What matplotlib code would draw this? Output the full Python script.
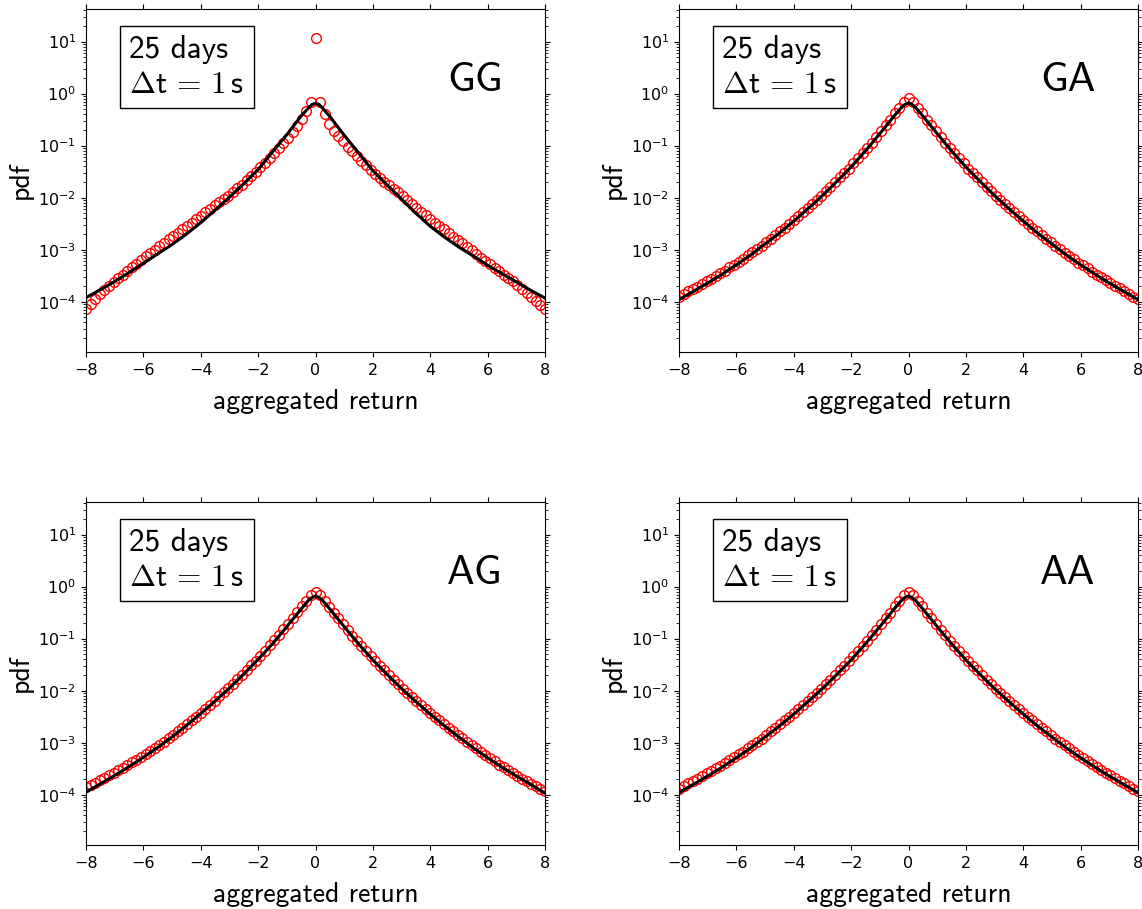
import numpy as np
import matplotlib
matplotlib.use("Agg")
import matplotlib.pyplot as plt

plt.rcParams['font.family'] = ['DejaVu Sans']

# ---------------- data (log10 of pdf) ----------------
panel_names = ["GG", "GA", "AG", "AA"]
bin_centers = np.linspace(-8, 8, 101)          # histogram bin centres
line_x = [-8, -7.5, -7, -6.5, -6, -5.5, -5, -4.5, -4, -3.5, -3, -2.5, -2, -1.5, -1,
          -0.75, -0.5, -0.25, -0.125, 0, 0.125, 0.25, 0.5, 0.75,
          1, 1.5, 2, 2.5, 3, 3.5, 4, 4.5, 5, 5.5, 6, 6.5, 7, 7.5, 8]

gg_circles_log10 = [
    -4.14, -4.04, -3.95, -3.86, -3.78, -3.70, -3.62, -3.55, -3.48, -3.41,
    -3.34, -3.27, -3.20, -3.13, -3.06, -3.00, -2.93, -2.87, -2.80, -2.74,
    -2.67, -2.61, -2.54, -2.48, -2.41, -2.35, -2.28, -2.22, -2.15, -2.09,
    -2.02, -1.96, -1.89, -1.82, -1.75, -1.67, -1.59, -1.51, -1.42, -1.33,
    -1.24, -1.14, -1.04, -0.95, -0.85, -0.74, -0.62, -0.49, -0.34, -0.17,
    1.06,
    -0.17, -0.40, -0.58, -0.71, -0.82, -0.92, -1.02, -1.11, -1.20, -1.29,
    -1.38, -1.47, -1.55, -1.62, -1.69, -1.76, -1.83, -1.90, -1.97, -2.04,
    -2.12, -2.19, -2.27, -2.34, -2.41, -2.48, -2.55, -2.61, -2.68, -2.75,
    -2.81, -2.88, -2.95, -3.01, -3.08, -3.15, -3.22, -3.28, -3.35, -3.41,
    -3.48, -3.54, -3.61, -3.68, -3.76, -3.84, -3.91, -3.98, -4.06, -4.14]

ga_circles_log10 = [
    -3.90, -3.85, -3.80, -3.75, -3.71, -3.66, -3.61, -3.56, -3.51, -3.45,
    -3.40, -3.34, -3.29, -3.23, -3.17, -3.11, -3.05, -2.99, -2.92, -2.85,
    -2.79, -2.72, -2.65, -2.58, -2.50, -2.43, -2.35, -2.28, -2.20, -2.12,
    -2.04, -1.96, -1.88, -1.79, -1.70, -1.61, -1.52, -1.44, -1.34, -1.24,
    -1.14, -1.04, -0.94, -0.83, -0.72, -0.61, -0.50, -0.38, -0.27, -0.17,
    -0.09,
    -0.17, -0.27, -0.38, -0.50, -0.61, -0.72, -0.83, -0.94, -1.04, -1.14,
    -1.24, -1.34, -1.44, -1.52, -1.61, -1.70, -1.79, -1.88, -1.96, -2.04,
    -2.12, -2.20, -2.28, -2.35, -2.43, -2.50, -2.58, -2.65, -2.72, -2.79,
    -2.85, -2.92, -2.99, -3.06, -3.12, -3.18, -3.25, -3.30, -3.36, -3.42,
    -3.48, -3.53, -3.59, -3.64, -3.69, -3.74, -3.80, -3.85, -3.90, -3.95]

ag_circles_log10 = [
    -3.86, -3.81, -3.77, -3.72, -3.67, -3.62, -3.58, -3.53, -3.48, -3.43,
    -3.38, -3.33, -3.27, -3.22, -3.16, -3.10, -3.04, -2.98, -2.91, -2.85,
    -2.78, -2.71, -2.64, -2.57, -2.50, -2.42, -2.35, -2.27, -2.19, -2.11,
    -2.03, -1.95, -1.87, -1.78, -1.69, -1.60, -1.51, -1.43, -1.33, -1.23,
    -1.13, -1.03, -0.93, -0.82, -0.71, -0.60, -0.49, -0.38, -0.27, -0.17,
    -0.10,
    -0.17, -0.28, -0.39, -0.50, -0.61, -0.72, -0.83, -0.94, -1.04, -1.14,
    -1.24, -1.34, -1.43, -1.52, -1.61, -1.70, -1.79, -1.87, -1.96, -2.04,
    -2.12, -2.20, -2.28, -2.35, -2.43, -2.50, -2.57, -2.64, -2.71, -2.78,
    -2.85, -2.91, -2.98, -3.05, -3.11, -3.18, -3.24, -3.30, -3.36, -3.42,
    -3.47, -3.53, -3.58, -3.64, -3.69, -3.74, -3.79, -3.84, -3.89, -3.93]

aa_circles_log10 = [
    -3.88, -3.83, -3.78, -3.74, -3.69, -3.64, -3.59, -3.54, -3.49, -3.44,
    -3.39, -3.33, -3.28, -3.22, -3.17, -3.11, -3.05, -2.98, -2.92, -2.85,
    -2.78, -2.72, -2.65, -2.57, -2.50, -2.43, -2.35, -2.27, -2.20, -2.12,
    -2.04, -1.96, -1.87, -1.79, -1.70, -1.61, -1.52, -1.43, -1.34, -1.24,
    -1.14, -1.04, -0.93, -0.83, -0.72, -0.61, -0.50, -0.38, -0.27, -0.17,
    -0.10,
    -0.17, -0.27, -0.38, -0.50, -0.61, -0.72, -0.83, -0.93, -1.04, -1.14,
    -1.24, -1.34, -1.43, -1.52, -1.61, -1.70, -1.79, -1.87, -1.96, -2.04,
    -2.12, -2.20, -2.27, -2.35, -2.43, -2.50, -2.57, -2.65, -2.72, -2.78,
    -2.85, -2.92, -2.98, -3.05, -3.11, -3.17, -3.24, -3.29, -3.35, -3.41,
    -3.47, -3.52, -3.58, -3.63, -3.68, -3.73, -3.78, -3.83, -3.88, -3.92]

gg_line_log10 = [-3.92, -3.77, -3.61, -3.44, -3.26, -3.08, -2.90, -2.70, -2.48, -2.24,
                 -1.99, -1.73, -1.46, -1.12, -0.79, -0.61, -0.43, -0.28, -0.21, -0.19,
                 -0.21, -0.28, -0.44, -0.62, -0.80, -1.14, -1.48, -1.76, -2.03, -2.30,
                 -2.55, -2.76, -2.95, -3.12, -3.30, -3.46, -3.62, -3.78, -3.93]
ga_line_log10 = [-3.96, -3.80, -3.64, -3.47, -3.29, -3.10, -2.89, -2.68, -2.45, -2.21,
                 -1.96, -1.69, -1.41, -1.10, -0.77, -0.60, -0.43, -0.27, -0.21, -0.18,
                 -0.21, -0.27, -0.43, -0.60, -0.77, -1.10, -1.41, -1.69, -1.96, -2.21,
                 -2.45, -2.68, -2.89, -3.10, -3.29, -3.47, -3.64, -3.80, -3.96]
ag_line_log10 = [-3.95, -3.79, -3.63, -3.46, -3.28, -3.09, -2.89, -2.67, -2.44, -2.20,
                 -1.95, -1.68, -1.40, -1.10, -0.77, -0.60, -0.43, -0.27, -0.21, -0.18,
                 -0.21, -0.27, -0.43, -0.60, -0.77, -1.10, -1.41, -1.69, -1.96, -2.21,
                 -2.45, -2.68, -2.89, -3.10, -3.29, -3.47, -3.64, -3.80, -3.97]
aa_line_log10 = [-3.96, -3.80, -3.64, -3.47, -3.29, -3.10, -2.89, -2.68, -2.45, -2.21,
                 -1.96, -1.69, -1.41, -1.10, -0.77, -0.60, -0.43, -0.27, -0.21, -0.18,
                 -0.21, -0.27, -0.43, -0.60, -0.77, -1.10, -1.41, -1.69, -1.96, -2.21,
                 -2.45, -2.68, -2.89, -3.10, -3.29, -3.47, -3.64, -3.80, -3.96]

circles = {"GG": gg_circles_log10, "GA": ga_circles_log10,
           "AG": ag_circles_log10, "AA": aa_circles_log10}
lines = {"GG": gg_line_log10, "GA": ga_line_log10,
         "AG": ag_line_log10, "AA": aa_line_log10}

info_line1 = "25 days"
info_line2 = r"$\Delta\mathsf{t}\,=\,\mathsf{1}\,\mathsf{s}$"
xlabel_text = "aggregated return"
ylabel_text = "pdf"

# ---------------- figure ----------------
W, H = 1142, 909
fig = plt.figure(figsize=(W / 100, H / 100), dpi=100)

col_left = [86 / W, 679 / W]
row_bottom = [1 - 351.7 / H, 1 - 844.7 / H]
ax_w = 459 / W
ax_h = 342.4 / H

for i, name in enumerate(panel_names):
    r, c = divmod(i, 2)
    ax = fig.add_axes([col_left[c], row_bottom[r], ax_w, ax_h])
    ax.set_yscale('log')
    ax.plot(bin_centers, 10 ** np.array(circles[name]), 'o', ms=7, mfc='none',
            mec='red', mew=1.0, zorder=2)
    ax.plot(line_x, 10 ** np.array(lines[name]), '-', color='black', lw=2.2, zorder=3)
    ax.set_xlim(-8, 8)
    ax.set_ylim(10 ** -4.96, 10 ** 1.62)
    ax.set_xticks([-8, -6, -4, -2, 0, 2, 4, 6, 8])
    ax.tick_params(which='both', direction='out', top=True, right=True,
                   labelsize=11.5)
    ax.tick_params(axis='x', pad=4.5)
    ax.set_xlabel(xlabel_text, family='cmss10', fontsize=20, labelpad=8)
    ax.set_ylabel(ylabel_text, family='cmss10', fontsize=20)
    ax.text(0.094, 0.925, info_line1 + "\n" + info_line2, transform=ax.transAxes,
            ha='left', va='top', fontsize=22.5, family='cmss10', math_fontfamily='cm',
            linespacing=1.25,
            bbox=dict(boxstyle='square,pad=0.3', fc='white', ec='black', lw=1.0),
            zorder=5)
    ax.text(0.847, 0.761, name, transform=ax.transAxes, ha='center',
            va='baseline', fontsize=30, family='cmss10', zorder=5)

fig.savefig("out.png", dpi=100)
